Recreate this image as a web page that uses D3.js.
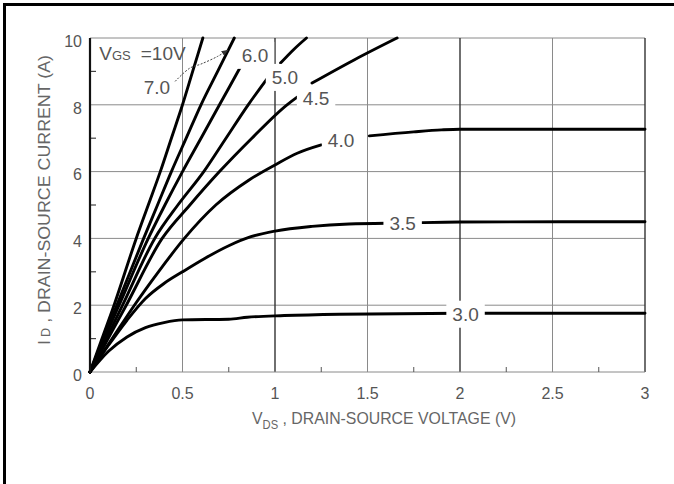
<!DOCTYPE html>
<html>
<head>
<meta charset="utf-8">
<script src="https://cdn.jsdelivr.net/npm/d3@7"></script>
<style>
  html, body { margin: 0; padding: 0; background: #fff; overflow: hidden; }
  svg { display: block; font-family: "Liberation Sans", Arial, sans-serif; }
  .grid { stroke: #8a8a8a; stroke-width: 1; }
  .grid.strong { stroke: #333; stroke-width: 1.4; }
  .curve { fill: none; stroke: #000; stroke-width: 2.9; stroke-linecap: round; }
  .tick-label { fill: #555; font-size: 16px; }
  .curve-label { fill: #555; font-size: 19px; }
  .axis-title { fill: #666; font-size: 17px; }
</style>
</head>
<body>
<svg id="chart" width="674" height="484"></svg>
<script>
const W = 674, H = 484;

// axis ticks
const xTicks = [0, 0.5, 1, 1.5, 2, 2.5, 3];
const xTickLabels = ["0", "0.5", "1", "1.5", "2", "2.5", "3"];
const xMinor = [0.25, 0.75, 1.25, 1.75, 2.25, 2.75];
const yTicks = [0, 2, 4, 6, 8, 10];
const yTickLabels = ["0", "2", "4", "6", "8", "10"];
const yMinor = [1, 3, 5, 7, 9];

// ID vs VDS for each VGS, [V, A]; null = break where the label sits
const vgs10 = [[0,0],[0.065,1],[0.13,2],[0.25,4],[0.315,5],[0.38,6],[0.44,7],[0.5,8],[0.555,9],[0.61,10]];
const vgs7 = [[0,0],[0.072,1],[0.145,2],[0.29,4],[0.365,5],[0.44,6],[0.52,7],[0.6,8],[0.69,9],[0.78,10]];
const vgs6 = [[0,0],[0.078,1],[0.157,2],[0.315,4],[0.405,5],[0.5,6],[0.6,7],[0.7,8],[0.81,9.1]];
const vgs5 = [[0,0],[0.088,1],[0.176,2],[0.35,4],[0.475,5],[0.615,6],[0.735,7],[0.855,8],[0.96,8.8],null,[1.03,9.25],[1.1,9.65],[1.17,10]];
const vgs45 = [[0,0],[0.098,1],[0.196,2],[0.39,4],[0.54,5],[0.7,6],[0.875,7],[1.065,8],[1.12,8.23],null,[1.2,8.65],[1.43,9.35],[1.66,10]];
const vgs4 = [[0,0],[0.12,1],[0.24,2],[0.37,3],[0.51,4],[0.68,5],[0.86,5.75],[1.0,6.2],[1.12,6.55],[1.25,6.8],null,[1.51,7.07],[1.75,7.19],[1.9,7.25],[2,7.27],[3,7.27]];
const vgs35 = [[0,0],[0.1,0.8],[0.2,1.55],[0.3,2.2],[0.4,2.65],[0.5,3.0],[0.62,3.4],[0.75,3.78],[0.87,4.05],[1.0,4.22],[1.2,4.36],[1.4,4.43],[1.7,4.46],[2,4.49],[3,4.5]];
const vgs3 = [[0,0],[0.1,0.62],[0.2,1.05],[0.3,1.33],[0.4,1.48],[0.5,1.56],[0.75,1.58],[0.85,1.64],[1.05,1.69],[1.35,1.73],[2,1.76],[3,1.76]];
const curves = [vgs10, vgs7, vgs6, vgs5, vgs45, vgs4, vgs35, vgs3];

// curve labels: text, V, A (centre), boxed = white backing
const labelText = ["3.0", "3.5", "4.0", "4.5", "5.0", "6.0", "7.0"];
const labelV = [2.03, 1.69, 1.357, 1.222, 1.054, 0.892, 0.362];
const labelI = [1.74, 4.46, 6.95, 8.2, 8.83, 9.49, 8.53];
const labelBoxed = [true, true, true, true, true, true, false];

// arrow from "7.0" to its curve
const arrowPts = [[0.46,8.7],[0.54,9.1],[0.6,9.22],[0.69,9.45],[0.745,9.64]];

const svg = d3.select("#chart");
const x = d3.scaleLinear().domain([0, 3]).range([90, 645]);
const y = d3.scaleLinear().domain([0, 10]).range([372, 38]);

svg.append("defs").append("marker")
  .attr("id", "arrow")
  .attr("viewBox", "0 0 10 10")
  .attr("refX", 9).attr("refY", 5)
  .attr("markerWidth", 7).attr("markerHeight", 7)
  .attr("orient", "auto")
  .append("path").attr("d", "M0,1 L10,5 L0,9 Z").attr("fill", "#333");

// outer frame: only top and left edges are inside the picture
svg.append("line")
  .attr("x1", 3).attr("x2", W).attr("y1", 4.5).attr("y2", 4.5)
  .attr("stroke", "#000").attr("stroke-width", 3);
svg.append("line")
  .attr("x1", 4.5).attr("x2", 4.5).attr("y1", 3).attr("y2", H)
  .attr("stroke", "#000").attr("stroke-width", 3);

// grid
const grid = svg.append("g");
grid.selectAll("line.h")
  .data(yTicks.filter(d => d > 0))
  .join("line")
  .attr("class", "grid")
  .attr("x1", x(0)).attr("x2", x(3))
  .attr("y1", d => y(d)).attr("y2", d => y(d));
grid.selectAll("line.v")
  .data(xTicks.filter(d => d > 0))
  .join("line")
  .attr("class", d => Number.isInteger(d) ? "grid strong" : "grid")
  .attr("x1", d => x(d)).attr("x2", d => x(d))
  .attr("y1", y(0)).attr("y2", y(10));

// bottom axis line and minor ticks
grid.append("line").attr("class", "grid")
  .attr("x1", x(0)).attr("x2", x(3)).attr("y1", y(0)).attr("y2", y(0));
grid.selectAll("line.xm")
  .data(xMinor)
  .join("line")
  .attr("stroke", "#555").attr("stroke-width", 1)
  .attr("x1", d => x(d)).attr("x2", d => x(d))
  .attr("y1", y(0)).attr("y2", y(0) - 5);
grid.selectAll("line.ym")
  .data(yMinor)
  .join("line")
  .attr("stroke", "#444").attr("stroke-width", 1.2)
  .attr("x1", x(0)).attr("x2", x(0) + 6)
  .attr("y1", d => y(d)).attr("y2", d => y(d));

// curves
const line = d3.line()
  .defined(d => d !== null)
  .x(d => x(d[0]))
  .y(d => y(d[1]))
  .curve(d3.curveMonotoneX);

svg.append("g").selectAll("path")
  .data(curves)
  .join("path")
  .attr("class", "curve")
  .attr("d", line);

// left axis
svg.append("line")
  .attr("x1", x(0)).attr("x2", x(0))
  .attr("y1", y(0) + 1).attr("y2", y(10))
  .attr("stroke", "#111").attr("stroke-width", 2.2);

// arrow annotation
svg.append("path")
  .datum(arrowPts)
  .attr("d", d3.line().x(d => x(d[0])).y(d => y(d[1])).curve(d3.curveCatmullRom))
  .attr("fill", "none")
  .attr("stroke", "#444")
  .attr("stroke-width", 1)
  .attr("stroke-dasharray", "2,1.5")
  .attr("marker-end", "url(#arrow)");

// curve labels with white backing
const labels = svg.append("g");
labelText.forEach((t, i) => {
  const g = labels.append("g");
  const txt = g.append("text")
    .attr("class", "curve-label")
    .attr("x", x(labelV[i]))
    .attr("y", y(labelI[i]))
    .attr("text-anchor", "middle")
    .attr("dy", "0.36em")
    .text(t);
  if (labelBoxed[i]) {
    const b = txt.node().getBBox();
    g.insert("rect", "text")
      .attr("x", b.x - 6).attr("y", b.y - 3)
      .attr("width", b.width + 12).attr("height", b.height + 6)
      .attr("fill", "#fff");
  }
});

// VGS = 10V label
const vg = svg.append("text")
  .attr("class", "curve-label")
  .attr("x", x(0.05))
  .attr("y", y(9.34));
vg.append("tspan").text("V");
vg.append("tspan").attr("font-size", 13).text("GS");
vg.append("tspan").attr("dx", 10).text("=10V");

// tick labels
svg.append("g").selectAll("text")
  .data(xTicks)
  .join("text")
  .attr("class", "tick-label")
  .attr("x", d => x(d))
  .attr("y", 399)
  .attr("text-anchor", "middle")
  .text((d, i) => xTickLabels[i]);

svg.append("g").selectAll("text")
  .data(yTicks)
  .join("text")
  .attr("class", "tick-label")
  .attr("x", 82)
  .attr("y", d => y(d) + 3)
  .attr("dy", "0.36em")
  .attr("text-anchor", "end")
  .text((d, i) => yTickLabels[i]);

// axis titles
const xt = svg.append("text")
  .attr("class", "axis-title")
  .attr("x", 252)
  .attr("y", 424)
  .attr("textLength", 264)
  .attr("lengthAdjust", "spacingAndGlyphs");
xt.append("tspan").text("V");
xt.append("tspan").attr("font-size", 12).attr("dy", 5).text("DS");
xt.append("tspan").attr("dy", -5).text(" , DRAIN-SOURCE VOLTAGE (V)");

const yt = svg.append("text")
  .attr("class", "axis-title")
  .attr("transform", "translate(50,345) rotate(-90)")
  .attr("textLength", 290)
  .attr("lengthAdjust", "spacingAndGlyphs");
yt.append("tspan").text("I");
yt.append("tspan").attr("font-size", 12).attr("dx", 3).text("D");
yt.append("tspan").text(" , DRAIN-SOURCE CURRENT (A)");
</script>
</body>
</html>
